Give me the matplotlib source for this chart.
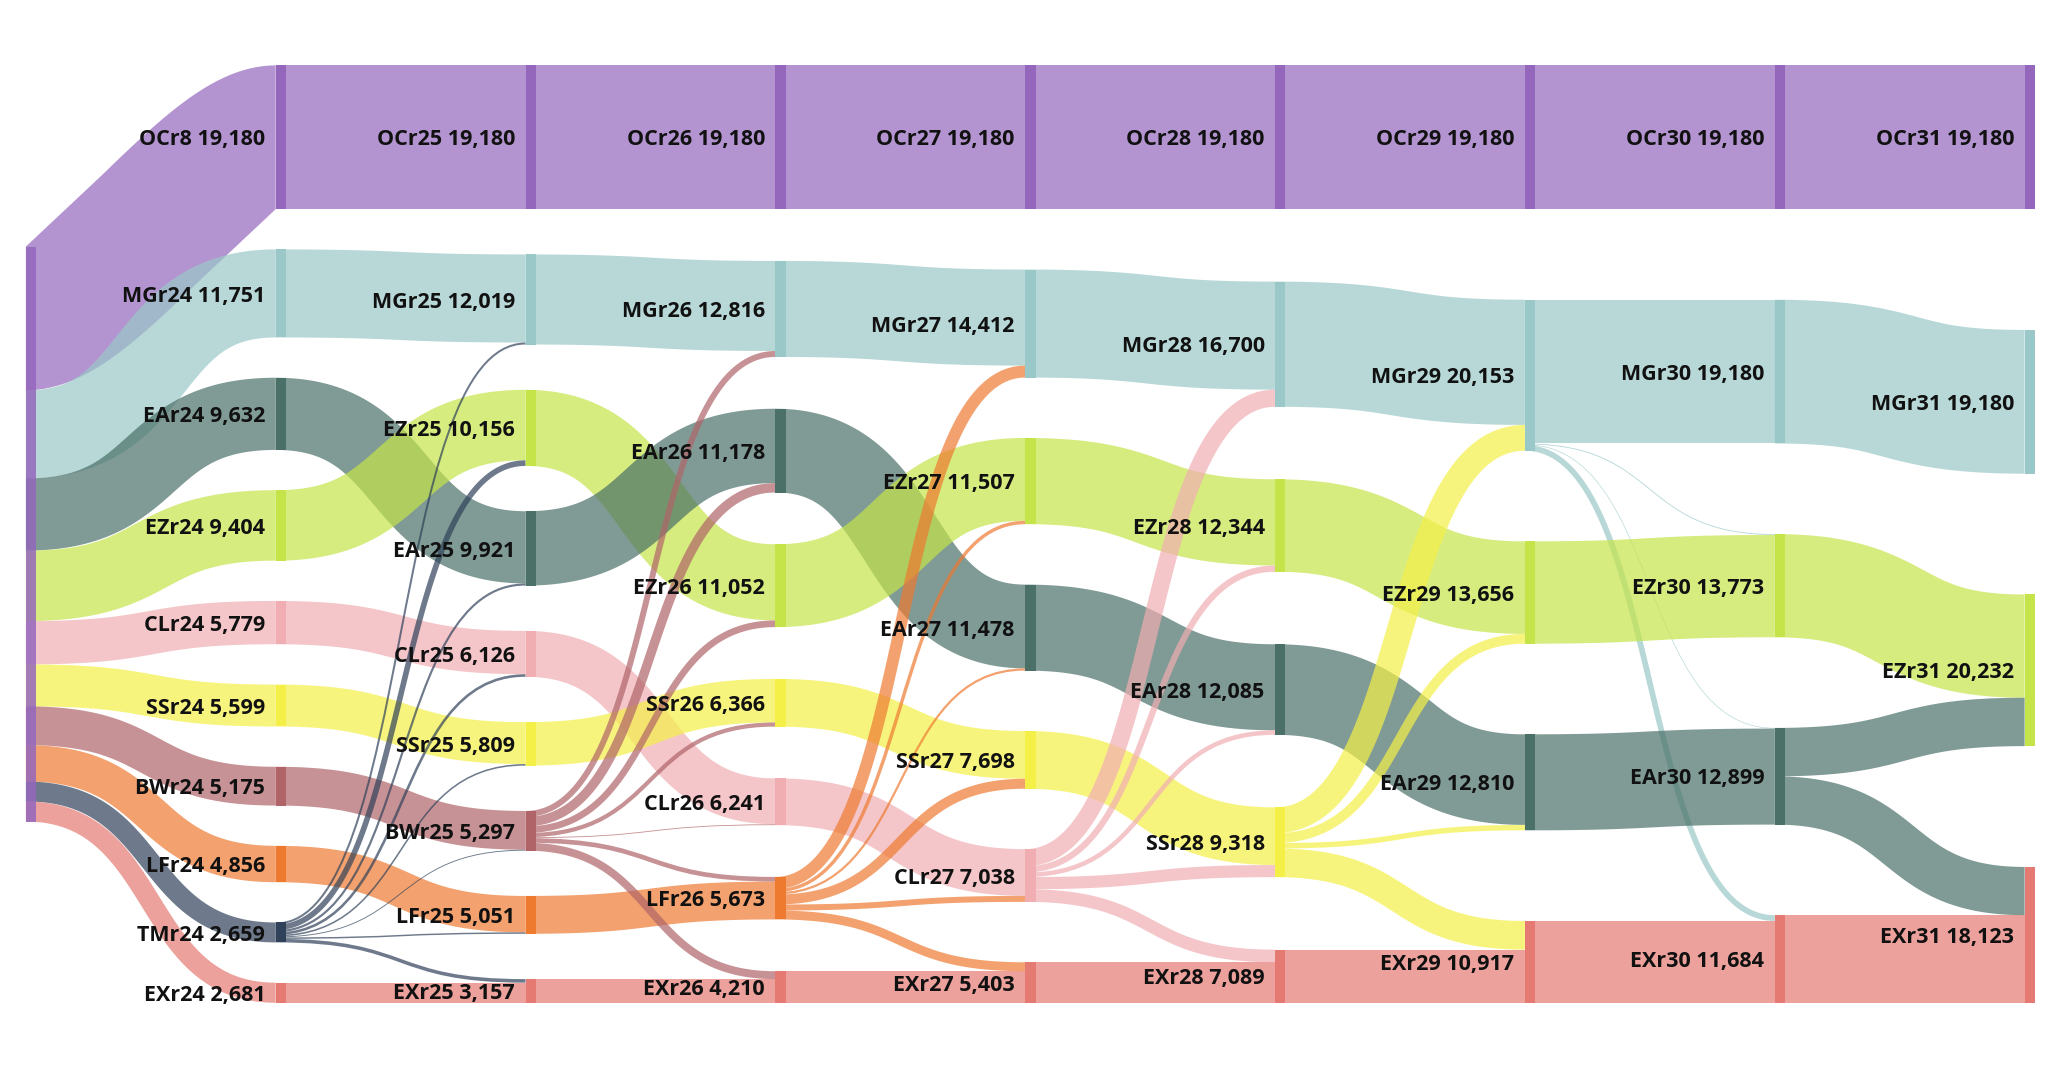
import numpy as np
import matplotlib
matplotlib.use("Agg")
import matplotlib.pyplot as plt
from matplotlib.path import Path
from matplotlib.patches import PathPatch, Rectangle, Polygon
from matplotlib.colors import to_rgb

# ---------------- data ----------------
col0 = ["SRC"]
col1 = ["OCr8", "MGr24", "EAr24", "EZr24", "CLr24", "SSr24", "BWr24", "LFr24", "TMr24", "EXr24"]
col2 = ["OCr25", "MGr25", "EZr25", "EAr25", "CLr25", "SSr25", "BWr25", "LFr25", "EXr25"]
col3 = ["OCr26", "MGr26", "EAr26", "EZr26", "SSr26", "CLr26", "LFr26", "EXr26"]
col4 = ["OCr27", "MGr27", "EZr27", "EAr27", "SSr27", "CLr27", "EXr27"]
col5 = ["OCr28", "MGr28", "EZr28", "EAr28", "SSr28", "EXr28"]
col6 = ["OCr29", "MGr29", "EZr29", "EAr29", "EXr29"]
col7 = ["OCr30", "MGr30", "EZr30", "EAr30", "EXr30"]
col8 = ["OCr31", "MGr31", "EZr31", "EXr31"]
columns = [col0, col1, col2, col3, col4, col5, col6, col7, col8]

link_source = (
    ["SRC"] * 10
    + ["OCr8", "MGr24", "EAr24", "EZr24", "CLr24", "SSr24", "BWr24", "LFr24", "EXr24"]
    + ["TMr24"] * 8
    + ["OCr25", "MGr25", "EZr25", "EAr25", "CLr25", "SSr25", "LFr25", "EXr25"]
    + ["BWr25"] * 7
    + ["OCr26", "MGr26", "EAr26", "EZr26", "SSr26", "CLr26", "EXr26"]
    + ["LFr26"] * 6
    + ["OCr27", "MGr27", "EZr27", "EAr27", "SSr27", "EXr27"]
    + ["CLr27"] * 5
    + ["OCr28", "MGr28", "EZr28", "EAr28", "EXr28"]
    + ["SSr28"] * 4
    + ["OCr29", "MGr29", "MGr29", "MGr29", "MGr29", "EZr29", "EAr29", "EXr29"]
    + ["OCr30", "MGr30", "EZr30", "EAr30", "EAr30", "EXr30"]
)
link_target = (
    ["OCr8", "MGr24", "EAr24", "EZr24", "CLr24", "SSr24", "BWr24", "LFr24", "TMr24", "EXr24"]
    + ["OCr25", "MGr25", "EAr25", "EZr25", "CLr25", "SSr25", "BWr25", "LFr25", "EXr25"]
    + ["MGr25", "EZr25", "EAr25", "CLr25", "SSr25", "BWr25", "LFr25", "EXr25"]
    + ["OCr26", "MGr26", "EZr26", "EAr26", "CLr26", "SSr26", "LFr26", "EXr26"]
    + ["MGr26", "EAr26", "EZr26", "SSr26", "CLr26", "LFr26", "EXr26"]
    + ["OCr27", "MGr27", "EAr27", "EZr27", "SSr27", "CLr27", "EXr27"]
    + ["MGr27", "EZr27", "EAr27", "SSr27", "CLr27", "EXr27"]
    + ["OCr28", "MGr28", "EZr28", "EAr28", "SSr28", "EXr28"]
    + ["MGr28", "EZr28", "EAr28", "SSr28", "EXr28"]
    + ["OCr29", "MGr29", "EZr29", "EAr29", "EXr29"]
    + ["MGr29", "EZr29", "EAr29", "EXr29"]
    + ["OCr30", "MGr30", "EZr30", "EAr30", "EXr30", "EZr30", "EAr30", "EXr30"]
    + ["OCr31", "MGr31", "EZr31", "EZr31", "EXr31", "EXr31"]
)
link_value = (
    [19180, 11751, 9632, 9404, 5779, 5599, 5175, 4856, 2659, 2681]
    + [19180, 11751, 9632, 9404, 5779, 5599, 5175, 4856, 2681]
    + [268, 752, 289, 347, 210, 122, 195, 476]
    + [19180, 12019, 10156, 9921, 6126, 5809, 5051, 3157]
    + [797, 1257, 896, 557, 115, 622, 1053]
    + [19180, 12816, 11178, 11052, 6366, 6241, 4210]
    + [1596, 455, 300, 1332, 797, 1193]
    + [19180, 14412, 11507, 11478, 7698, 5403]
    + [2288, 837, 607, 1620, 1686]
    + [19180, 16700, 12344, 12085, 7089]
    + [3453, 1312, 725, 3828]
    + [19180, 19180, 117, 89, 767, 13656, 12810, 10917]
    + [19180, 19180, 13773, 6459, 6439, 11684]
)

group_colors = {
    "SRC": "#9467bd", "OC": "#9467bd", "MG": "#9ac8c8", "EA": "#4a7068",
    "EZ": "#c5e449", "CL": "#f0aeb2", "SS": "#f5f048", "BW": "#b06468",
    "LF": "#ee7a30", "TM": "#30425a", "EX": "#e57a72",
}

# ---------------- layout ----------------
W_PX, H_PX = 2050, 1066
U = 1568.0                      # layout units across the width
VH = U * H_PX / W_PX
PT_PER_UNIT = (W_PX / U) * 72.0 / 100.0
X_LEFT, X_STEP, NODE_W = 19.8, 191.1, 7.9
Y_TOP, Y_BOT = 50.0, 767.0
NODE_PAD = 30.8
LINK_ALPHA = 0.7
CURV = 0.55         # control-point offset as a fraction of the gap
CURV_TIGHT = 0.25   # used for very wide links that bend hard
INNER_THR = 0.45    # half-width / curvature radius above which inner edge is a chord


def grp(name):
    return "SRC" if name == "SRC" else name[:2]


# node values = max(in, out)
inflow, outflow = {}, {}
for s, t, v in zip(link_source, link_target, link_value):
    outflow[s] = outflow.get(s, 0) + v
    inflow[t] = inflow.get(t, 0) + v
value = {n: max(inflow.get(n, 0), outflow.get(n, 0)) for c in columns for n in c}

max_n = max(len(c) for c in columns)
max_sum = max(sum(value[n] for n in c) for c in columns)
scale = (Y_BOT - Y_TOP - (max_n - 1) * NODE_PAD) / max_sum

node_x, node_y0, node_y1 = {}, {}, {}
for ci, col in enumerate(columns):
    tot = sum(value[n] for n in col) * scale
    if len(col) == 1:
        gap = 0
        y = (Y_TOP + Y_BOT) / 2 - tot / 2
    else:
        gap = (Y_BOT - Y_TOP - tot) / (len(col) - 1)
        y = Y_TOP
    for n in col:
        node_x[n] = X_LEFT + ci * X_STEP
        node_y0[n] = y
        node_y1[n] = y + value[n] * scale
        y = node_y1[n] + gap

# link offsets
links = list(range(len(link_value)))
src_off, tgt_off = {}, {}
by_src, by_tgt = {}, {}
for i in links:
    by_src.setdefault(link_source[i], []).append(i)
    by_tgt.setdefault(link_target[i], []).append(i)
for n, ls in by_src.items():
    ls.sort(key=lambda i: node_y0[link_target[i]])
    y = node_y0[n]
    for i in ls:
        src_off[i] = y
        y += link_value[i] * scale
for n, ls in by_tgt.items():
    ls.sort(key=lambda i: node_y0[link_source[i]])
    y = node_y0[n]
    for i in ls:
        tgt_off[i] = y
        y += link_value[i] * scale


def bez(P, t):
    t = t[:, None]
    return ((1 - t) ** 3) * P[0] + 3 * t * (1 - t) ** 2 * P[1] + 3 * t ** 2 * (1 - t) * P[2] + t ** 3 * P[3]


def bez_d1(P, t):
    t = t[:, None]
    return 3 * (1 - t) ** 2 * (P[1] - P[0]) + 6 * t * (1 - t) * (P[2] - P[1]) + 3 * t ** 2 * (P[3] - P[2])


def bez_d2(P, t):
    t = t[:, None]
    return 6 * (1 - t) * (P[2] - 2 * P[1] + P[0]) + 6 * t * (P[3] - 2 * P[2] + P[1])


def ctrl(x0, c0, x1, c1, k):
    dx = x1 - x0
    return np.array([[x0, c0], [x0 + k * dx, c0], [x1 - k * dx, c1], [x1, c1]])


def min_radius(P):
    t = np.linspace(0, 1, 201)
    d1 = bez_d1(P, t)
    d2 = bez_d2(P, t)
    sp = np.hypot(d1[:, 0], d1[:, 1])
    cross = np.abs(d1[:, 0] * d2[:, 1] - d1[:, 1] * d2[:, 0])
    with np.errstate(divide="ignore"):
        rad = np.where(cross > 1e-9, sp ** 3 / np.maximum(cross, 1e-12), np.inf)
    return rad.min()


def band_outline(P, h, n=60):
    """Outline of a stroked cubic; tight inner bends are bridged by a chord."""
    tops, bots = [], []
    for (ta, tb) in [(0.0, 0.5), (0.5, 1.0)]:
        t = np.linspace(ta, tb, n)
        c = bez(P, t)
        d1 = bez_d1(P, t)
        d2 = bez_d2(P, t)
        sp = np.hypot(d1[:, 0], d1[:, 1])
        nrm = np.stack([d1[:, 1], -d1[:, 0]], axis=1) / sp[:, None]
        top = c + h * nrm
        bot = c - h * nrm
        cross = np.abs(d1[:, 0] * d2[:, 1] - d1[:, 1] * d2[:, 0])
        with np.errstate(divide="ignore"):
            rad = np.where(cross > 1e-9, sp ** 3 / np.maximum(cross, 1e-12), np.inf)
        kdotn = np.sum(d2 * nrm, axis=1)
        top_inner = np.mean(kdotn) > 0
        if h > INNER_THR * rad.min():
            inner = top if top_inner else bot
            chord = np.linspace(inner[0], inner[-1], n)
            if top_inner:
                top = chord
            else:
                bot = chord
        tops.append(top)
        bots.append(bot)
    top = np.vstack(tops)
    bot = np.vstack(bots)
    return np.vstack([top, bot[::-1]])


# ---------------- drawing ----------------
fig = plt.figure(figsize=(W_PX / 100, H_PX / 100), dpi=100)
ax = fig.add_axes([0, 0, 1, 1])
ax.set_xlim(0, U)
ax.set_ylim(VH, 0)
ax.axis("off")

for i in links:
    s, t = link_source[i], link_target[i]
    x0 = node_x[s]                 # links start under the source bar
    x1 = node_x[t]
    w = link_value[i] * scale
    c0 = src_off[i] + w / 2
    c1 = tgt_off[i] + w / 2
    color_node = t if s == "SRC" else s
    col = to_rgb(group_colors[grp(color_node)])
    P = ctrl(x0, c0, x1, c1, CURV)
    if w >= 4:
        if w / 2 > INNER_THR * min_radius(P):
            P = ctrl(x0, c0, x1, c1, CURV_TIGHT)
        ax.add_patch(Polygon(band_outline(P, w / 2), closed=True, facecolor=col,
                             alpha=LINK_ALPHA, lw=0, zorder=1))
    else:
        codes = [Path.MOVETO, Path.CURVE4, Path.CURVE4, Path.CURVE4]
        ax.add_patch(PathPatch(Path(P, codes), facecolor="none", edgecolor=col,
                               alpha=LINK_ALPHA, lw=w * PT_PER_UNIT,
                               capstyle="butt", zorder=1))

for col in columns:
    for n in col:
        ax.add_patch(Rectangle((node_x[n], node_y0[n]), NODE_W, node_y1[n] - node_y0[n],
                               facecolor=group_colors[grp(n)], lw=0,
                               alpha=0.85 if n == "SRC" else 1.0, zorder=2))
        if n != "SRC":
            ax.text(node_x[n] - 8, (node_y0[n] + node_y1[n]) / 2 + 2, f"{n} {value[n]:,}",
                    ha="right", va="center", fontsize=15.5, fontweight="bold",
                    family=["Open Sans", "DejaVu Sans"], color="#111111", zorder=3)

fig.savefig("out.png", dpi=100)
